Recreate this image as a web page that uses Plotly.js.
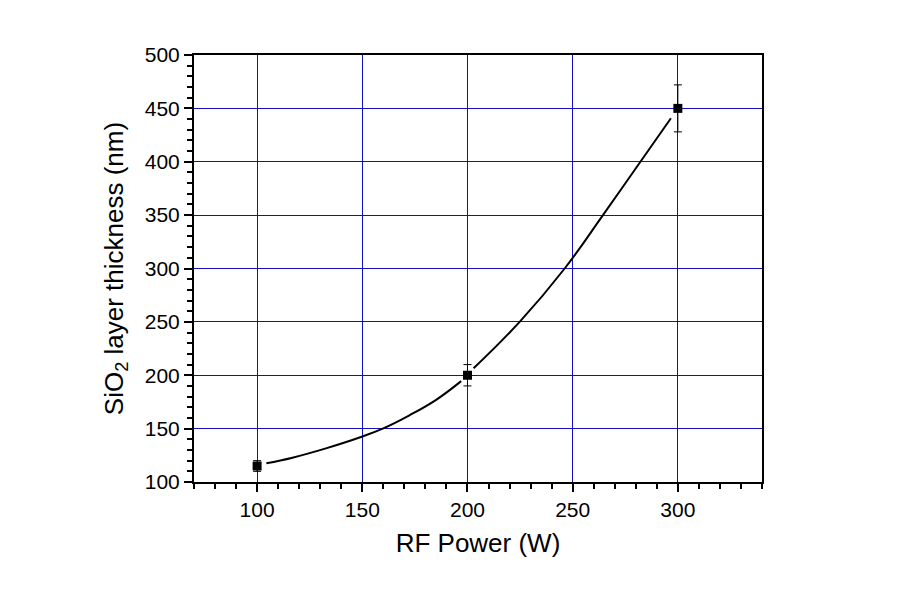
<!DOCTYPE html>
<html>
<head>
<meta charset="utf-8">
<script src="https://cdn.plot.ly/plotly-3.0.1.min.js"></script>
<style>html,body{margin:0;padding:0;background:#fff;}#chart{width:921px;height:598px;}</style>
</head>
<body>
<div id="chart"></div>
<script>
// Measured data
const powerW = [100, 200, 300];
const thicknessNm = [115, 200, 450];
const thicknessErr = [5, 10, 22];

// Fit curve (null = gap around the marker)
const fitX = [104.4, 116.8, 132.7, 149.7, 159.7, 172.4, 185.1, 197.0, null, 202.9, 224.8, 246.2, 264.4, 282.2, 296.7];
const fitY = [117.5, 122.8, 131.5, 142.4, 150.0, 162.5, 177.0, 194.5, null, 206.5, 250.0, 300.0, 350.0, 400.0, 440.7];

const fontFam = 'Liberation Sans, Arial, sans-serif';

const traces = [
  {
    x: fitX, y: fitY, type: 'scatter', mode: 'lines',
    line: {color: '#000', width: 2, shape: 'spline', smoothing: 1.2},
    connectgaps: false, hoverinfo: 'skip', showlegend: false
  },
  {
    x: powerW, y: thicknessNm, type: 'scatter', mode: 'markers',
    marker: {symbol: 'square', size: 9, color: '#000'},
    error_y: {type: 'data', array: thicknessErr, visible: true, color: '#000', thickness: 1, width: 4},
    showlegend: false
  }
];

const axisCommon = {
  showline: true, linecolor: '#000', linewidth: 2, mirror: true,
  ticks: 'outside', ticklen: 8, tickwidth: 2, tickcolor: '#000',
  showgrid: true, gridcolor: '#1010C0', gridwidth: 1,
  zeroline: false,
  tickfont: {family: fontFam, size: 21, color: '#000'}
};

const layout = {
  width: 921, height: 598,
  margin: {l: 194, r: 159, t: 55, b: 116},
  paper_bgcolor: '#fff', plot_bgcolor: '#fff',
  xaxis: Object.assign({}, axisCommon, {
    range: [70, 340], tick0: 0, dtick: 50,
    minor: {dtick: 10, ticks: 'outside', ticklen: 5, tickwidth: 2, tickcolor: '#000', showgrid: false},
    title: {text: 'RF Power (W)', font: {family: fontFam, size: 26, color: '#000'}, standoff: 14}
  }),
  yaxis: Object.assign({}, axisCommon, {
    range: [100, 500], tick0: 0, dtick: 50,
    minor: {dtick: 10, ticks: 'outside', ticklen: 5, tickwidth: 2, tickcolor: '#000', showgrid: false},
    title: {text: 'SiO<sub>2</sub> layer thickness (nm)', font: {family: fontFam, size: 26, color: '#000'}, standoff: 14}
  })
};

Plotly.newPlot('chart', traces, layout, {staticPlot: true});
</script>
</body>
</html>
